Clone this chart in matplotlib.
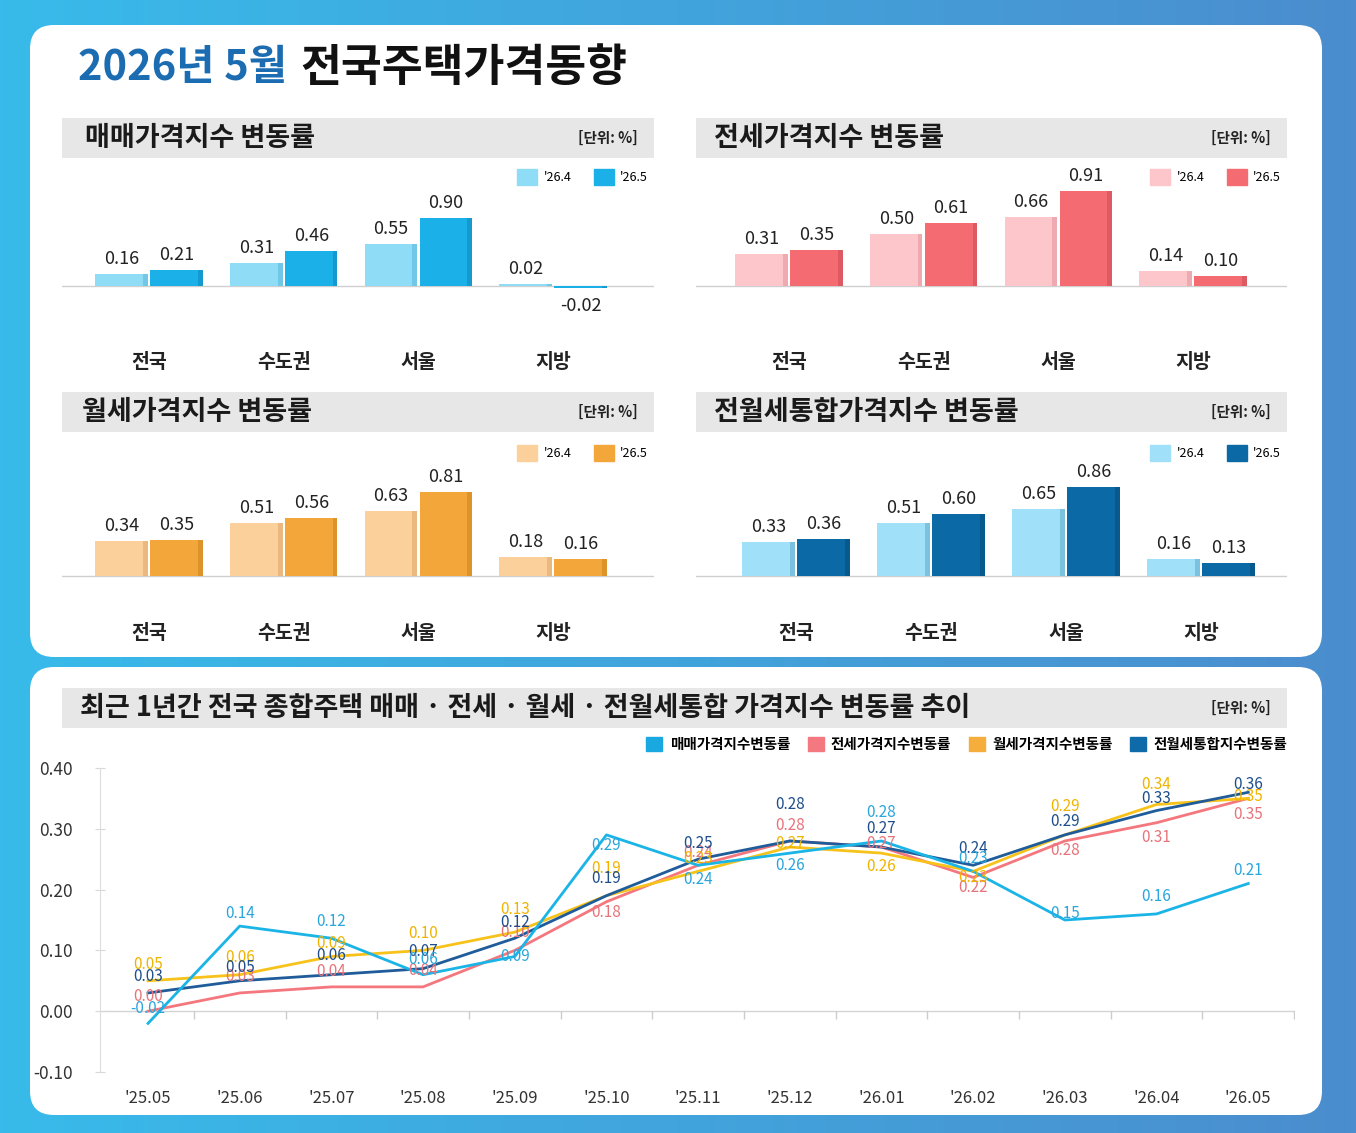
import numpy as np
import matplotlib
matplotlib.use('Agg')
import matplotlib.pyplot as plt
from matplotlib.patches import FancyBboxPatch, Rectangle, Patch
from matplotlib.colors import LinearSegmentedColormap

plt.rcParams['font.family'] = ['Noto Sans CJK KR', 'DejaVu Sans']

# ---- data ----
regions = ['전국', '수도권', '서울', '지방']
periods = ["'26.4", "'26.5"]

sale_prev = [0.16, 0.31, 0.55, 0.02]
sale_curr = [0.21, 0.46, 0.90, -0.02]
jeonse_prev = [0.31, 0.50, 0.66, 0.14]
jeonse_curr = [0.35, 0.61, 0.91, 0.10]
wolse_prev = [0.34, 0.51, 0.63, 0.18]
wolse_curr = [0.35, 0.56, 0.81, 0.16]
total_prev = [0.33, 0.51, 0.65, 0.16]
total_curr = [0.36, 0.60, 0.86, 0.13]

months = ["'25.05", "'25.06", "'25.07", "'25.08", "'25.09", "'25.10", "'25.11",
          "'25.12", "'26.01", "'26.02", "'26.03", "'26.04", "'26.05"]
sale_trend = [-0.02, 0.14, 0.12, 0.06, 0.09, 0.29, 0.24, 0.26, 0.28, 0.23, 0.15, 0.16, 0.21]
jeonse_trend = [0.00, 0.03, 0.04, 0.04, 0.10, 0.18, 0.24, 0.28, 0.27, 0.22, 0.28, 0.31, 0.35]
wolse_trend = [0.05, 0.06, 0.09, 0.10, 0.13, 0.19, 0.23, 0.27, 0.26, 0.23, 0.29, 0.34, 0.35]
total_trend = [0.03, 0.05, 0.06, 0.07, 0.12, 0.19, 0.25, 0.28, 0.27, 0.24, 0.29, 0.33, 0.36]
trend_names = ['매매가격지수변동률', '전세가격지수변동률', '월세가격지수변동률', '전월세통합지수변동률']

# label offsets (pixels, up positive) for the trend chart
sale_dy = [15, 13, 17, 15, 0, -11, -14, -12, 28, 13, 7, 17, 13]
jeonse_dy = [15, 16, 15, 16, 18, -11, 13, 15, 4, -10, -10, -15, -16]
wolse_dy = [16, 17, 13, 17, 23, 27, 13, 4, -13, -6, 28, 20, 2]
total_dy = [16, 13, 19, 17, 16, 17, 16, 36, 19, 17, 13, 12, 8]

W, H = 1356, 1133
fig = plt.figure(figsize=(W / 100, H / 100), dpi=100)


def px_axes(l, t, r, b):
    return fig.add_axes([l / W, 1 - b / H, (r - l) / W, (b - t) / H])


# ---- background ----
bg = px_axes(0, 0, W, H)
bg.set_xlim(0, W)
bg.set_ylim(H, 0)
bg.axis('off')
cm = LinearSegmentedColormap.from_list('bg', ['#38bbea', '#4b8dce'])
bg.imshow(np.linspace(0, 1, 256).reshape(1, -1), extent=[0, W, H, 0],
          aspect='auto', cmap=cm, zorder=0)
for (x0, y0, x1, y1) in [(30, 25, 1322, 657), (30, 667, 1322, 1115)]:
    bg.add_patch(FancyBboxPatch((x0, y0), x1 - x0, y1 - y0,
                                boxstyle='round,pad=0,rounding_size=24',
                                fc='white', ec='none', zorder=1))

bg.text(78, 68, '2026년 5월', color='#1c6cb2', fontsize=30, weight='heavy',
        va='center', zorder=3)
bg.text(300, 68, '전국주택가격동향', color='#111111', fontsize=32, weight='heavy',
        va='center', zorder=3)

headers = [
    ((62, 118, 654, 158), '매매가격지수 변동률', 85),
    ((696, 118, 1287, 158), '전세가격지수 변동률', 714),
    ((62, 392, 654, 432), '월세가격지수 변동률', 82),
    ((696, 392, 1287, 432), '전월세통합가격지수 변동률', 714),
    ((62, 688, 1287, 728), '최근 1년간 전국 종합주택 매매 · 전세 · 월세 · 전월세통합 가격지수 변동률 추이', 80),
]
for (x0, y0, x1, y1), txt, tx in headers:
    bg.add_patch(Rectangle((x0, y0), x1 - x0, y1 - y0, fc='#e7e7e7', ec='none', zorder=2))
    bg.text(tx, (y0 + y1) / 2, txt, fontsize=19.5, weight='heavy', color='#1a1a1a',
            va='center', zorder=3)
    bg.text(x1 - 16, (y0 + y1) / 2, '[단위: %]', fontsize=10.5, weight='bold',
            color='#222222', va='center', ha='right', zorder=3)


# ---- bar panels ----
def bar_panel(rect, xlim, base_px, scale, prev, curr, colors, strips):
    l, t, r, b = rect
    ax = px_axes(l, t, r, b)
    ax.set_facecolor('none')
    ax.set_xlim(xlim)
    ax.set_ylim(-(b - base_px) / scale, (base_px - t) / scale)
    x = np.arange(len(regions))
    w, off, sw = 0.39, 0.204, 0.035
    for vals, sign, c, sc in [(prev, -1, colors[0], strips[0]), (curr, 1, colors[1], strips[1])]:
        ax.bar(x + sign * off, vals, width=w, color=c, zorder=2)
        ax.bar(x + sign * off + w / 2 - sw / 2, vals, width=sw, color=sc, zorder=2)
        for xi, v in zip(x + sign * off, vals):
            if v >= 0:
                ax.annotate(f'{v:.2f}', (xi, v), xytext=(0, 6), textcoords='offset pixels',
                            ha='center', va='bottom', fontsize=13, weight='medium', color='#222222')
            else:
                ax.annotate(f'{v:.2f}', (xi, v), xytext=(0, -9), textcoords='offset pixels',
                            ha='center', va='top', fontsize=13, weight='medium', color='#222222')
    ax.axhline(0, color='#cfcfcf', lw=1, zorder=1)
    for s in ax.spines.values():
        s.set_visible(False)
    ax.set_yticks([])
    ax.set_xticks(x, regions)
    ax.tick_params(axis='x', length=0, pad=13, labelsize=14, labelcolor='#222222')
    for lab in ax.get_xticklabels():
        lab.set_fontweight('bold')
    handles = [Patch(color=colors[0]), Patch(color=colors[1])]
    ax.legend(handles, periods, ncol=2, loc='upper right',
              bbox_to_anchor=((r - 6) / W, 1 - (t + 4) / H), bbox_transform=fig.transFigure,
              frameon=False, fontsize=9, handlelength=1.6, handleheight=1.6,
              handletextpad=0.5, columnspacing=1.8, borderpad=0, borderaxespad=0)
    return ax


bar_panel((62, 165, 654, 335), (-0.646, 3.749), 286, 75.6, sale_prev, sale_curr,
          ('#8fdcf7', '#1bb0e8'), ('#70c7e8', '#1499d0'))
bar_panel((696, 165, 1287, 335), (-0.69, 3.697), 286, 104.0, jeonse_prev, jeonse_curr,
          ('#fcc6cb', '#f46b72'), ('#eeaab0', '#de5a62'))
bar_panel((62, 441, 654, 606), (-0.646, 3.749), 576, 103.7, wolse_prev, wolse_curr,
          ('#fbd09b', '#f3a73a'), ('#ebb980', '#db932a'))
bar_panel((696, 441, 1287, 606), (-0.741, 3.637), 576, 103.5, total_prev, total_curr,
          ('#a0e1f9', '#0b6aa6'), ('#7cc2df', '#085a8e'))

# ---- trend chart ----
ax = px_axes(100, 768, 1295, 1072)
ax.set_facecolor('none')
ax.set_xlim(-0.524, 12.51)
ax.set_ylim(-0.10, 0.40)
xi = np.arange(len(months))

series = [
    (jeonse_trend, '#f5777e', '#e8737a', jeonse_dy),
    (wolse_trend, '#f7c21a', '#f0b400', wolse_dy),
    (total_trend, '#1f5c99', '#1f4e8c', total_dy),
    (sale_trend, '#1ab4e6', '#2aa6dc', sale_dy),
]
for vals, lc, tc, dys in series:
    ax.plot(xi, vals, color=lc, lw=2.0, zorder=3)
for vals, lc, tc, dys in series:
    for i, v in enumerate(vals):
        ax.annotate(f'{v:.2f}', (i, v), xytext=(0, dys[i]), textcoords='offset pixels',
                    ha='center', va='center', fontsize=11, weight='medium', color=tc, zorder=4)

ax.axhline(0, color='#d4d4d4', lw=1, zorder=1)
ax.vlines(xi[:-1] + 0.5, -0.013, 0, color='#cccccc', lw=1)
ax.vlines([12.5], -0.013, 0, color='#cccccc', lw=1)
for k, s in ax.spines.items():
    s.set_visible(k == 'left')
ax.spines['left'].set_color('#dddddd')
yt = [-0.10, 0.00, 0.10, 0.20, 0.30, 0.40]
ax.set_yticks(yt, [f'{v:.2f}' if v >= 0 else f'-{abs(v):.2f}' for v in yt])
ax.tick_params(axis='y', direction='inout', length=7, color='#d8d8d8', pad=16,
               labelsize=12.5, labelcolor='#333333')
ax.set_xticks(xi, months)
ax.tick_params(axis='x', length=0, pad=13, labelsize=12, labelcolor='#333333')

legend_colors = ['#1aa8e0', '#f47880', '#f5ad3b', '#0e6aa8']
ax.legend([Patch(color=c) for c in legend_colors], trend_names, ncol=4, loc='upper right',
          bbox_to_anchor=(1287 / W, 1 - 736 / H), bbox_transform=fig.transFigure,
          frameon=False, fontsize=10.5, handlelength=1.1, handleheight=1.1,
          handletextpad=0.5, columnspacing=1.2, borderpad=0, borderaxespad=0,
          prop={'weight': 'bold', 'size': 10.5})

fig.savefig('out.png', dpi=100)
